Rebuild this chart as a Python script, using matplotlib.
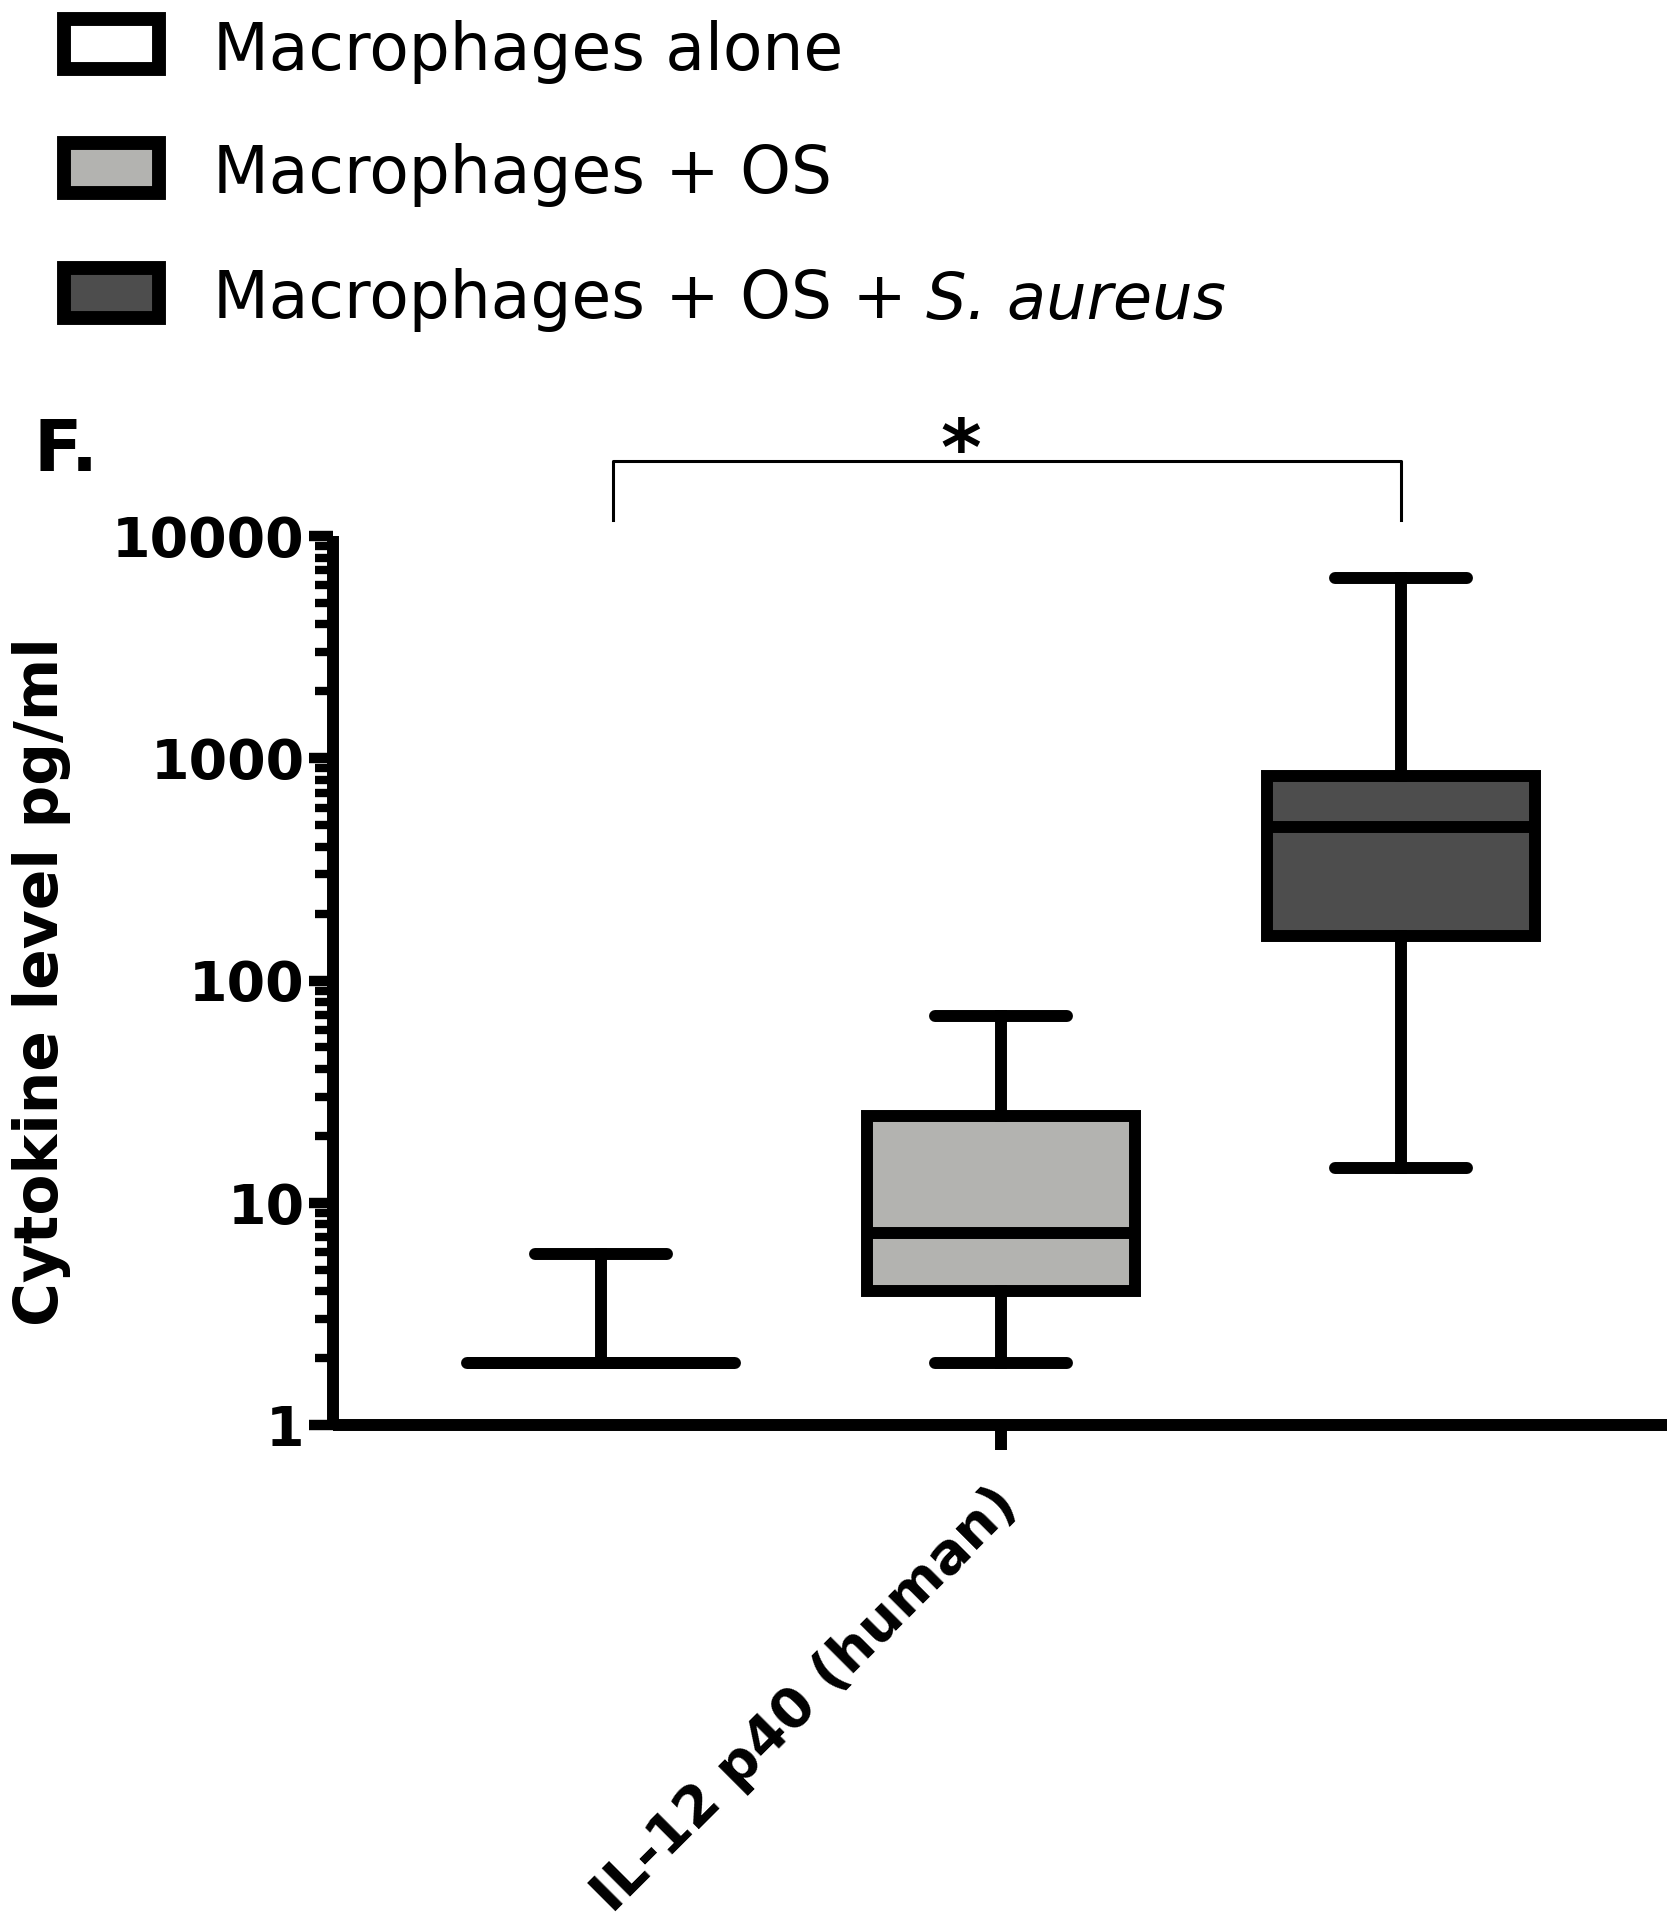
import matplotlib
matplotlib.use("Agg")
import matplotlib.pyplot as plt
from matplotlib.patches import Rectangle
from matplotlib.ticker import FixedLocator, LogLocator, NullFormatter
from matplotlib.transforms import ScaledTranslation

W, H, DPI = 1671, 1920, 100

# data (pg/ml)
GROUPS = ["Macrophages alone", "Macrophages + OS", "Macrophages + OS +"]
GROUP_ITALIC = ["", "", "S. aureus"]
FILLS = ["#ffffff", "#b3b3b0", "#4d4d4d"]
WHISK_LO = [1.9, 1.9, 14.4]
Q1 = [1.9, 4.0, 158]
MEDIAN = [1.9, 7.3, 488]
Q3 = [1.9, 24.5, 832]
WHISK_HI = [5.9, 69, 6500]
OFFSETS = [-1, 0, 1]
CYTOKINE = ["IL-12 p40 (human)"]
YTICKS = [1, 10, 100, 1000, 10000]
YLABELS = ["1", "10", "100", "1000", "10000"]

INK = "black"
LW = 8.6


def fx(px):
    return px / W


def fy(px):
    return 1 - px / H


fig = plt.figure(figsize=(W / DPI, H / DPI), dpi=DPI)
fig.patch.set_facecolor("white")
ax = fig.add_axes([fx(333), fy(1425), (1667 - 333) / W, (1425 - 536) / H])

for i in range(len(GROUPS)):
    stats = [dict(med=MEDIAN[i], q1=Q1[i], q3=Q3[i],
                  whislo=WHISK_LO[i], whishi=WHISK_HI[i], fliers=[])]
    flat = Q1[i] == Q3[i]
    ax.bxp(
        stats,
        positions=[OFFSETS[i]],
        widths=0.67,
        capwidths=0.33,
        patch_artist=True,
        showfliers=False,
        manage_ticks=False,
        boxprops=dict(facecolor=FILLS[i], edgecolor=INK, linewidth=LW,
                      joinstyle="round" if flat else "miter",
                      capstyle="round" if flat else "butt"),
        medianprops=dict(color=INK, linewidth=LW),
        whiskerprops=dict(color=INK, linewidth=LW),
        capprops=dict(color=INK, linewidth=LW, solid_capstyle="round"),
    )

ax.set_yscale("log")
ax.set_ylim(1, 10000)
ax.set_xlim(-1.67, 1.665)
ax.yaxis.set_major_locator(FixedLocator(YTICKS))
ax.set_yticklabels(YLABELS, fontsize=40, fontweight="bold")
ax.yaxis.set_minor_locator(LogLocator(base=10, subs=range(2, 10)))
ax.yaxis.set_minor_formatter(NullFormatter())
ax.tick_params(axis="y", which="major", length=17, width=7.5, pad=3.5)
ax.tick_params(axis="y", which="minor", length=13, width=6)

ax.set_xticks([0])
ax.set_xticklabels(CYTOKINE, rotation=45, ha="right", va="top",
                   rotation_mode="anchor", fontsize=40, fontweight="bold")
ax.tick_params(axis="x", length=18, width=LW, pad=20)
shift = ScaledTranslation(-0.11, 0, fig.dpi_scale_trans)
for lab in ax.get_xticklabels():
    lab.set_transform(lab.get_transform() + shift)

for side in ["top", "right"]:
    ax.spines[side].set_visible(False)
for side in ["left", "bottom"]:
    ax.spines[side].set_linewidth(LW)
    ax.spines[side].set_capstyle("butt")

# significance bracket
ax.plot([-0.97, -0.97, 1.0, 1.0], [11800, 21750, 21750, 11800],
        color=INK, lw=2.2, clip_on=False)
ax.text(-0.10, 18800, "*", ha="center", va="baseline", fontsize=56,
        fontweight="bold", color=INK)

ax.set_ylabel("")
fig.text(fx(42), fy(982), "Cytokine level pg/ml", rotation=90, fontsize=43,
         fontweight="bold", ha="center", va="center")
fig.text(fx(33), fy(471), "F.", fontsize=51, fontweight="bold",
         ha="left", va="baseline")

# legend drawn by hand
box_tops = [19, 143, 268]
baselines = [70, 193, 318]
for i in range(len(GROUPS)):
    fig.patches.append(Rectangle((fx(64), fy(box_tops[i] + 50)), 95 / W, 50 / H,
                                 transform=fig.transFigure, facecolor=FILLS[i],
                                 edgecolor=INK, linewidth=10))
    t = fig.text(fx(213), fy(baselines[i]), GROUPS[i], fontsize=46.5,
                 ha="left", va="baseline")
    if GROUP_ITALIC[i]:
        ax.annotate(GROUP_ITALIC[i], xy=(1, 0), xycoords=t, xytext=(14, 0),
                    textcoords="offset points", ha="left", va="bottom",
                    fontsize=46, style="italic")

fig.savefig("out.png", dpi=DPI, facecolor="white")
